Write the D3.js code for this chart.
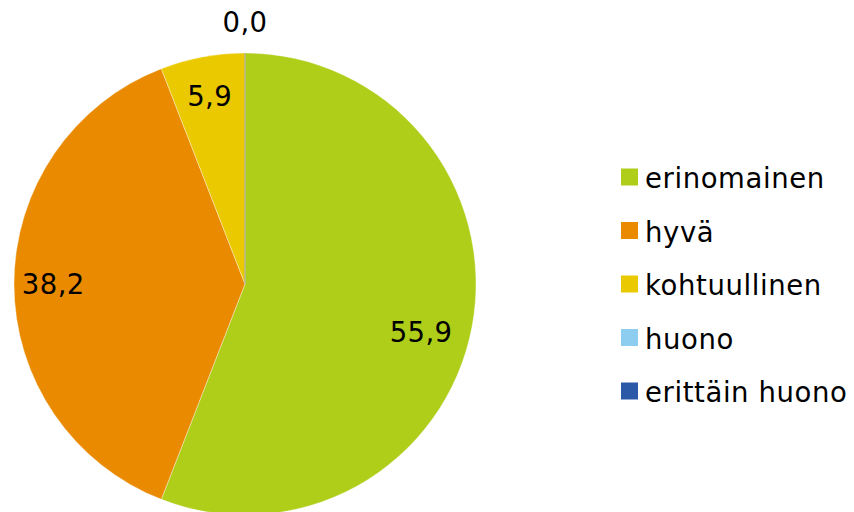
<!DOCTYPE html>
<html><head><meta charset="utf-8">
<script src="https://cdn.jsdelivr.net/npm/d3@7"></script>
<style>body{margin:0;background:#fff}svg{display:block}text{font-family:"DejaVu Sans",sans-serif}</style>
</head><body>
<svg id="c" width="854" height="512"></svg>
<script>
const categories = ["erinomainen","hyvä","kohtuullinen","huono","erittäin huono"];
const values = [55.9, 38.2, 5.9, 0.0, 0.0];
const colors = ["#AFCE1A","#E98A00","#EBC900","#8DCDEF","#2B59A8"];

const svg = d3.select("#c");
const cx = 245, cy = 284, R = 231;
const data = categories.map((c,i)=>({cat:c, v:values[i], col:colors[i]}));
const pie = d3.pie().sort(null).value(d=>d.v).startAngle(0).endAngle(2*Math.PI);
const arcs = pie(data);
const arc = d3.arc().innerRadius(0).outerRadius(R);
const g = svg.append("g").attr("transform",`translate(${cx},${cy})`);
g.selectAll("path.s").data(arcs.filter(a=>a.data.v>0)).join("path")
  .attr("class","s").attr("d",arc).attr("fill",d=>d.data.col)
  .attr("stroke","#fff").attr("stroke-width",0.6).attr("stroke-opacity",0.6);
g.append("line").attr("x1",0).attr("y1",0).attr("x2",0).attr("y2",-R)
  .attr("stroke","#a0a0a0").attr("stroke-width",1);

const fmt = v => d3.format(".1f")(v).replace(".",",");
const labArc = d3.arc().innerRadius(R*0.82).outerRadius(R*0.82);
let zeroDone = false;
arcs.forEach(a=>{
  let x,y;
  if (a.data.v>0) {
    const mid = (a.startAngle+a.endAngle)/2;
    // Excel-like: large slices pushed a bit lower
    const ang = a.data.v > 50 ? mid + 0.08 : mid;
    const rr = a.data.v > 50 ? R*0.79 : R*0.83;
    x = Math.sin(ang)*rr; y = -Math.cos(ang)*rr;
  }
  else { if (zeroDone) return; zeroDone = true; x = 0; y = -R - 31; }
  g.append("text").attr("x",x).attr("y",y).attr("text-anchor","middle")
   .attr("dominant-baseline","central").attr("font-size",27.5).attr("fill","#000")
   .attr("letter-spacing",0.4).text(fmt(a.data.v));
});

const lg = svg.append("g").attr("transform","translate(621,177)");
const row = lg.selectAll("g").data(data).join("g").attr("transform",(d,i)=>`translate(0,${i*53.5})`);
row.append("rect").attr("x",0).attr("y",-8.5).attr("width",17).attr("height",17).attr("fill",d=>d.col);
row.append("text").attr("x",24).attr("y",1).attr("dominant-baseline","central")
  .attr("font-size",27.5).attr("letter-spacing",0.6).attr("fill","#000").text(d=>d.cat);
</script>
</body></html>
